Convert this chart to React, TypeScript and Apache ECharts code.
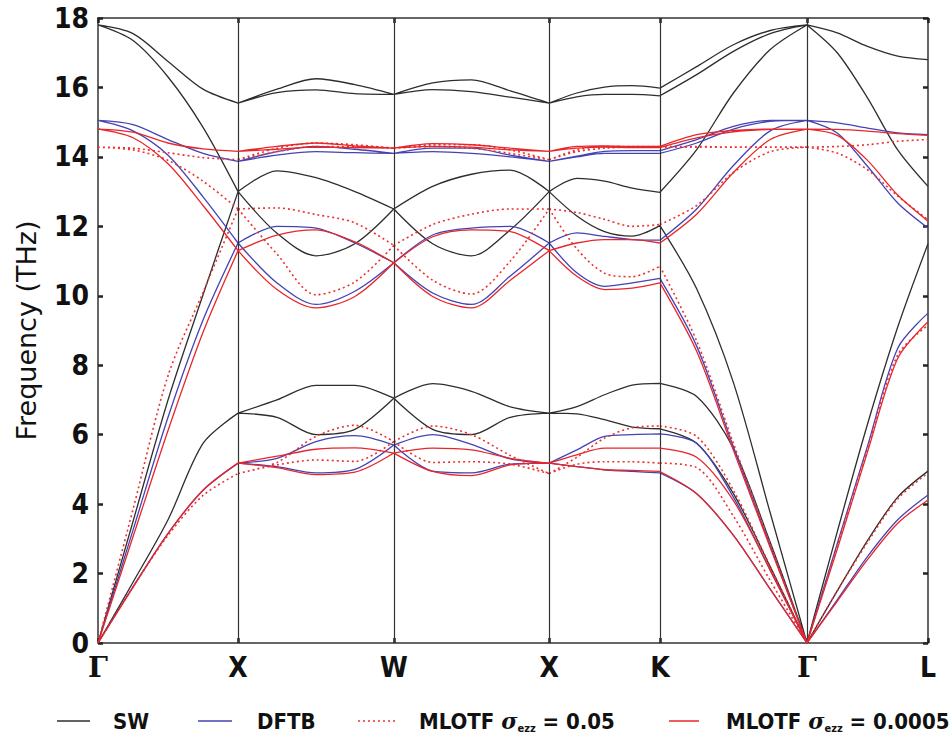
import React, { useEffect, useRef } from "react";
import * as echarts from "echarts";

// High-symmetry path (horizontal distance along the path) and labels
const kLabels = ["Γ", "X", "W", "X", "K", "Γ", "L"];
const kPath = [0, 140, 295.7, 451, 561.7, 708.7, 829.7];
const tSamples = [0, 0.25, 0.5, 0.75, 1];

// ---------- SW (black) : 6 bands per segment, 5 samples each (THz) ----------
const SW_GX = [
  [0, 1.75, 3.55, 5.75, 6.62],
  [0, 1.75, 3.55, 5.75, 6.62],
  [0, 3.5, 7.0, 10.03, 13.0],
  [17.8, 17.35, 16.3, 14.85, 13.0],
  [17.8, 17.55, 16.75, 15.95, 15.55],
  [17.8, 17.55, 16.75, 15.95, 15.55],
];
const SW_XW = [
  [6.62, 7.0, 7.42, 7.42, 7.05],
  [6.62, 6.5, 6.0, 6.15, 7.05],
  [13.0, 13.6, 13.4, 13.0, 12.5],
  [13.0, 11.8, 11.15, 11.5, 12.5],
  [15.55, 15.95, 16.25, 16.08, 15.8],
  [15.55, 15.85, 15.93, 15.82, 15.8],
];
const SW_WX = [
  [7.05, 7.47, 7.25, 6.8, 6.62],
  [7.05, 6.15, 6.0, 6.5, 6.62],
  [12.5, 13.15, 13.5, 13.62, 13.0],
  [12.5, 11.5, 11.15, 11.9, 13.0],
  [15.8, 16.13, 16.22, 15.9, 15.55],
  [15.8, 15.94, 15.88, 15.72, 15.55],
];
const SW_XK = [
  [6.62, 6.81, 7.15, 7.43, 7.48],
  [6.62, 6.6, 6.43, 6.22, 6.17],
  [13.0, 13.38, 13.3, 13.1, 12.98],
  [13.0, 12.3, 11.85, 11.72, 12.02],
  [15.55, 15.84, 16.01, 16.05, 15.98],
  [15.55, 15.73, 15.8, 15.8, 15.76],
];
const SW_KG = [
  [7.48, 7.1, 5.6, 2.9, 0],
  [6.17, 5.75, 4.3, 2.2, 0],
  [12.98, 14.21, 15.84, 17.09, 17.8],
  [12.02, 10.2, 7.5, 3.75, 0],
  [15.98, 16.6, 17.23, 17.64, 17.8],
  [15.76, 16.37, 17.04, 17.55, 17.8],
];
const SW_GL = [
  [0, 1.5, 2.95, 4.2, 4.95],
  [0, 1.5, 2.95, 4.2, 4.95],
  [0, 3.2, 6.3, 9.1, 11.5],
  [17.8, 17.0, 15.7, 14.2, 13.15],
  [17.8, 17.0, 15.7, 14.2, 13.15],
  [17.8, 17.57, 17.18, 16.9, 16.8],
];

// ---------- DFTB (blue) ----------
const DFTB_GX = [
  [0, 1.62, 3.16, 4.4, 5.18],
  [0, 1.62, 3.16, 4.4, 5.18],
  [0, 3.25, 6.5, 9.3, 11.52],
  [15.05, 14.75, 14.05, 12.85, 11.52],
  [15.05, 14.93, 14.5, 14.1, 13.87],
  [15.05, 14.93, 14.5, 14.1, 13.87],
];
const DFTB_XW = [
  [5.18, 5.32, 5.8, 5.97, 5.7],
  [5.18, 5.08, 4.9, 5.0, 5.7],
  [11.52, 12.0, 11.95, 11.52, 10.95],
  [11.52, 10.37, 9.75, 10.13, 10.95],
  [13.87, 14.15, 14.3, 14.22, 14.1],
  [13.87, 14.05, 14.15, 14.12, 14.1],
];
const DFTB_WX = [
  [5.7, 6.0, 5.72, 5.3, 5.18],
  [5.7, 4.95, 4.9, 5.15, 5.18],
  [10.95, 11.75, 11.95, 12.0, 11.52],
  [10.95, 10.08, 9.75, 10.57, 11.52],
  [14.1, 14.25, 14.25, 14.05, 13.87],
  [14.1, 14.15, 14.1, 14.0, 13.87],
];
const DFTB_XK = [
  [5.18, 5.56, 5.95, 6.0, 6.02],
  [5.18, 5.08, 4.99, 4.94, 4.9],
  [11.52, 11.81, 11.71, 11.62, 11.6],
  [11.52, 10.66, 10.27, 10.37, 10.5],
  [13.87, 14.02, 14.16, 14.18, 14.18],
  [13.87, 14.0, 14.1, 14.1, 14.1],
];
const DFTB_KG = [
  [6.02, 5.75, 4.2, 2.1, 0],
  [4.9, 4.3, 3.1, 1.55, 0],
  [10.5, 8.55, 5.65, 2.8, 0],
  [11.6, 12.5, 13.75, 14.75, 15.05],
  [14.18, 14.5, 14.88, 15.05, 15.05],
  [14.1, 14.4, 14.8, 15.02, 15.05],
];
const DFTB_GL = [
  [0, 1.24, 2.49, 3.55, 4.26],
  [0, 1.24, 2.49, 3.55, 4.26],
  [0, 2.86, 5.67, 8.49, 9.5],
  [15.05, 14.69, 13.73, 12.67, 11.95],
  [15.05, 14.98, 14.83, 14.69, 14.64],
  [15.05, 14.98, 14.83, 14.69, 14.64],
];

// ---------- MLOTF sigma = 0.05 (red dotted) ----------
const ML05_GX = [
  [0, 1.62, 3.1, 4.25, 4.88],
  [0, 1.62, 3.1, 4.25, 4.88],
  [0, 3.85, 7.7, 10.1, 12.5],
  [14.28, 14.2, 13.9, 13.3, 12.5],
  [14.28, 14.25, 14.12, 13.98, 13.92],
  [14.28, 14.25, 14.12, 13.98, 13.92],
];
const ML05_XW = [
  [4.88, 5.2, 5.95, 6.27, 5.8],
  [4.88, 5.13, 5.27, 5.23, 5.8],
  [12.5, 12.53, 12.34, 12.1, 11.45],
  [12.5, 11.2, 10.03, 10.4, 11.45],
  [13.92, 14.25, 14.4, 14.35, 14.25],
  [13.92, 14.15, 14.3, 14.3, 14.25],
];
const ML05_WX = [
  [5.8, 6.25, 6.0, 5.4, 4.88],
  [5.8, 5.2, 5.22, 5.15, 4.88],
  [11.45, 12.05, 12.35, 12.5, 12.5],
  [11.45, 10.45, 10.05, 11.0, 12.5],
  [14.25, 14.35, 14.35, 14.2, 13.92],
  [14.25, 14.3, 14.25, 14.1, 13.92],
];
const ML05_XK = [
  [4.88, 5.35, 5.9, 6.2, 6.25],
  [4.88, 5.15, 5.22, 5.22, 5.18],
  [12.5, 12.4, 12.2, 12.0, 12.05],
  [12.5, 11.35, 10.65, 10.55, 10.85],
  [13.92, 14.2, 14.3, 14.3, 14.3],
  [13.92, 14.15, 14.25, 14.28, 14.28],
];
const ML05_KG = [
  [6.25, 5.95, 4.4, 2.2, 0],
  [5.18, 5.05, 3.65, 1.8, 0],
  [10.85, 8.7, 5.75, 2.85, 0],
  [12.05, 12.6, 13.55, 14.15, 14.28],
  [14.3, 14.3, 14.28, 14.28, 14.28],
  [14.28, 14.28, 14.28, 14.28, 14.28],
];
const ML05_GL = [
  [0, 1.5, 2.9, 4.15, 4.9],
  [0, 1.5, 2.9, 4.15, 4.9],
  [0, 2.8, 5.6, 8.3, 9.15],
  [14.28, 14.11, 13.63, 12.87, 12.19],
  [14.28, 14.3, 14.35, 14.45, 14.5],
  [14.28, 14.3, 14.35, 14.45, 14.5],
];

// ---------- MLOTF sigma = 0.0005 (red solid) ----------
const ML0005_GX = [
  [0, 1.6, 3.15, 4.4, 5.18],
  [0, 1.6, 3.15, 4.4, 5.18],
  [0, 3.06, 6.12, 8.95, 11.3],
  [14.8, 14.55, 13.8, 12.6, 11.3],
  [14.8, 14.71, 14.4, 14.23, 14.16],
  [14.8, 14.71, 14.4, 14.23, 14.16],
];
const ML0005_XW = [
  [5.18, 5.38, 5.58, 5.62, 5.47],
  [5.18, 5.05, 4.85, 4.92, 5.47],
  [11.3, 11.75, 11.9, 11.55, 10.95],
  [11.3, 10.18, 9.65, 9.98, 10.95],
  [14.16, 14.3, 14.4, 14.32, 14.25],
  [14.16, 14.22, 14.28, 14.27, 14.25],
];
const ML0005_WX = [
  [5.47, 5.61, 5.56, 5.32, 5.18],
  [5.47, 4.94, 4.82, 5.13, 5.18],
  [10.95, 11.7, 11.9, 11.85, 11.3],
  [10.95, 9.98, 9.65, 10.45, 11.3],
  [14.25, 14.38, 14.35, 14.25, 14.16],
  [14.25, 14.3, 14.28, 14.2, 14.16],
];
const ML0005_XK = [
  [5.18, 5.42, 5.61, 5.61, 5.61],
  [5.18, 5.08, 4.99, 4.97, 4.94],
  [11.3, 11.52, 11.62, 11.62, 11.52],
  [11.3, 10.56, 10.18, 10.22, 10.37],
  [14.16, 14.3, 14.32, 14.3, 14.3],
  [14.16, 14.25, 14.28, 14.27, 14.27],
];
const ML0005_KG = [
  [5.61, 5.35, 4.1, 2.1, 0],
  [4.94, 4.3, 3.1, 1.55, 0],
  [10.37, 8.4, 5.55, 2.75, 0],
  [11.52, 12.35, 13.55, 14.5, 14.8],
  [14.3, 14.64, 14.76, 14.8, 14.8],
  [14.27, 14.55, 14.72, 14.79, 14.8],
];
const ML0005_GL = [
  [0, 1.2, 2.4, 3.45, 4.12],
  [0, 1.2, 2.4, 3.45, 4.12],
  [0, 2.7, 5.5, 8.2, 9.25],
  [14.8, 14.62, 13.9, 12.9, 12.15],
  [14.8, 14.79, 14.74, 14.67, 14.62],
  [14.8, 14.79, 14.74, 14.67, 14.62],
];

const seriesNames = ["SW", "DFTB", "MLOTF σ = 0.05", "MLOTF σ = 0.0005"];
const seriesColors = ["#2e2e2e", "#4343b4", "#ee3030", "#e8262a"];

function buildData(segments: number[][][]) {
  const data: any[] = [];
  for (let b = 0; b < 6; b++) {
    for (let s = 0; s < segments.length; s++) {
      const vals = segments[s][b];
      const x0 = kPath[s];
      const x1 = kPath[s + 1];
      vals.forEach((v, i) => data.push([x0 + tSamples[i] * (x1 - x0), v]));
      data.push([x1, "-"]);
    }
  }
  return data;
}

const FONT = "'DejaVu Sans Condensed', 'DejaVu Sans', sans-serif";

export default function App() {
  const ref = useRef<HTMLDivElement>(null);
  useEffect(() => {
    if (!ref.current) return;
    const chart = echarts.init(ref.current, undefined, { renderer: "svg" });
    const datasets = [
      [SW_GX, SW_XW, SW_WX, SW_XK, SW_KG, SW_GL],
      [DFTB_GX, DFTB_XW, DFTB_WX, DFTB_XK, DFTB_KG, DFTB_GL],
      [ML05_GX, ML05_XW, ML05_WX, ML05_XK, ML05_KG, ML05_GL],
      [ML0005_GX, ML0005_XW, ML0005_WX, ML0005_XK, ML0005_KG, ML0005_GL],
    ];
    const labelFor = (v: number) => {
      let best = 0;
      kPath.forEach((k, i) => {
        if (Math.abs(k - v) < Math.abs(kPath[best] - v)) best = i;
      });
      const l = kLabels[best];
      return l === "Γ" ? "{g|Γ}" : "{t|" + l + "}";
    };
    const tickLabelStyle = {
      fontSize: 28,
      fontWeight: "bold" as const,
      fontFamily: FONT,
      color: "#111",
    };
    const series: any[] = datasets.map((segs, i) => ({
      name: seriesNames[i],
      type: "line",
      data: buildData(segs),
      showSymbol: false,
      symbol: "none",
      smooth: 0.3,
      connectNulls: false,
      silent: true,
      z: 2 + i,
      lineStyle: {
        color: seriesColors[i],
        width: i === 2 ? 1.6 : 1.3,
        type: i === 2 ? [2, 3] : "solid",
      },
      itemStyle: { color: seriesColors[i] },
      markLine:
        i === 0
          ? {
              silent: true,
              symbol: ["none", "none"],
              label: { show: false },
              lineStyle: { color: "#333", width: 1.2, type: "solid" },
              data: kPath.slice(1, 6).map((x) => ({ xAxis: x })),
            }
          : undefined,
    }));

    const legendY = 721;
    const legendItems = [
      { x1: 57, x2: 90, tx: 113, color: seriesColors[0], dash: null, text: "{t|SW}" },
      { x1: 198, x2: 232, tx: 257, color: seriesColors[1], dash: null, text: "{t|DFTB}" },
      { x1: 358, x2: 395, tx: 419, color: seriesColors[2], dash: [2, 3], text: "{t|MLOTF }{s|σ}{sub|ezz}{t| = 0.05}" },
      { x1: 669, x2: 699, tx: 726, color: seriesColors[3], dash: null, text: "{t|MLOTF }{s|σ}{sub|ezz}{t| = 0.0005}" },
    ];
    const rich = {
      t: { fontSize: 22, fontWeight: "bold", fontFamily: FONT, fill: "#111", lineHeight: 26, verticalAlign: "middle" },
      s: { fontSize: 22, fontWeight: "bold", fontStyle: "italic", fontFamily: "'DejaVu Serif', serif", fill: "#111", lineHeight: 26, verticalAlign: "middle" },
      sub: { fontSize: 11, fontWeight: "bold", fontFamily: FONT, fill: "#111", lineHeight: 11, verticalAlign: "bottom" },
    };
    const graphic: any[] = [];
    legendItems.forEach((it) => {
      graphic.push({
        type: "line",
        shape: { x1: it.x1, y1: legendY, x2: it.x2, y2: legendY },
        style: { stroke: it.color, lineWidth: it.dash ? 1.6 : 1.5, lineDash: it.dash || undefined },
        silent: true,
      });
      graphic.push({
        type: "text",
        x: it.tx,
        y: legendY,
        style: { text: it.text, rich, verticalAlign: "middle", align: "left" },
        silent: true,
      });
    });

    chart.setOption({
      animation: false,
      backgroundColor: "#fff",
      grid: { left: 98, right: 23, top: 18, bottom: 93, containLabel: false },
      xAxis: [
        {
          type: "value",
          min: 0,
          max: kPath[kPath.length - 1],
          position: "bottom",
          axisLine: { show: true, onZero: false, lineStyle: { color: "#333", width: 1.5 } },
          axisTick: { show: true, inside: true, length: 5, customValues: kPath, lineStyle: { color: "#222", width: 2.5 } },
          axisLabel: {
            show: true,
            customValues: kPath,
            margin: 10,
            formatter: (v: number) => labelFor(v),
            rich: {
              t: { ...tickLabelStyle },
              g: { ...tickLabelStyle, fontFamily: "'DejaVu Serif', serif" },
            },
          },
          splitLine: { show: false },
        },
        {
          type: "value",
          min: 0,
          max: kPath[kPath.length - 1],
          position: "top",
          axisLine: { show: true, onZero: false, lineStyle: { color: "#333", width: 1.5 } },
          axisTick: { show: true, inside: true, length: 5, customValues: kPath, lineStyle: { color: "#222", width: 2.5 } },
          axisLabel: { show: false },
          splitLine: { show: false },
        },
      ],
      yAxis: [
        {
          type: "value",
          min: 0,
          max: 18,
          interval: 2,
          position: "left",
          name: "Frequency (THz)",
          nameLocation: "middle",
          nameGap: 58,
          nameRotate: 90,
          nameTextStyle: { fontSize: 27, fontFamily: "'DejaVu Sans', sans-serif", color: "#111" },
          axisLine: { show: true, onZero: false, lineStyle: { color: "#333", width: 1.5 } },
          axisTick: { show: true, inside: true, length: 5, lineStyle: { color: "#222", width: 2.5 } },
          axisLabel: { ...tickLabelStyle, margin: 9 },
          splitLine: { show: false },
        },
        {
          type: "value",
          min: 0,
          max: 18,
          interval: 2,
          position: "right",
          axisLine: { show: true, onZero: false, lineStyle: { color: "#333", width: 1.5 } },
          axisTick: { show: true, inside: true, length: 5, lineStyle: { color: "#222", width: 2.5 } },
          axisLabel: { show: false },
          splitLine: { show: false },
        },
      ],
      series,
      graphic,
    });
    return () => chart.dispose();
  }, []);
  return <div ref={ref} style={{ width: 951, height: 736, position: "absolute", left: 0, top: 0 }} />;
}
